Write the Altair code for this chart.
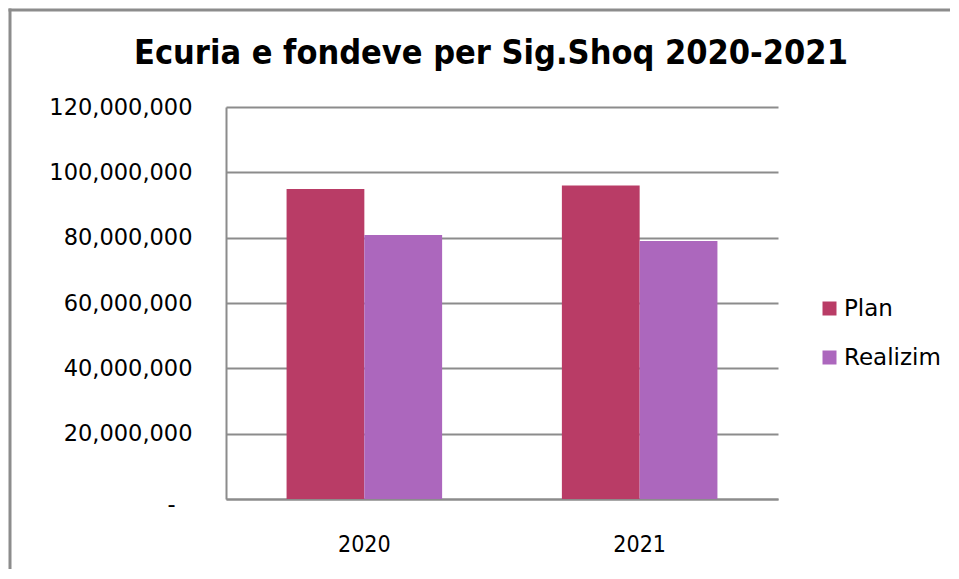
import altair as alt
import pandas as pd

years = ["2020", "2021"]
series = ["Plan", "Realizim"]
plan = [94_900_000, 96_000_000]
realizim = [80_800_000, 79_000_000]
colors = ["#B93C66", "#AC67BD"]
y_ticks = [0, 20_000_000, 40_000_000, 60_000_000, 80_000_000, 100_000_000, 120_000_000]
title_text = "Ecuria e fondeve per Sig.Shoq 2020-2021"

rows = []
for i, yr in enumerate(years):
    rows.append({"year": yr, "series": "Plan", "value": plan[i]})
    rows.append({"year": yr, "series": "Realizim", "value": realizim[i]})
df = pd.DataFrame(rows)

GRAY = "#8c8c8c"
FONT = "DejaVu Sans"
CFONT = "DejaVu Sans Condensed"

bars = alt.Chart(df).mark_bar().encode(
    x=alt.X("year:N", sort=years,
            scale=alt.Scale(paddingInner=0.435, paddingOuter=0.22),
            axis=alt.Axis(title=None, labelAngle=0, ticks=False, domainColor=GRAY,
                          domainWidth=2, labelPadding=34, labelFontSize=23,
                          labelFont=CFONT, labelColor="#000000", grid=False)),
    xOffset=alt.XOffset("series:N", sort=series, scale=alt.Scale(paddingInner=0, paddingOuter=0)),
    y=alt.Y("value:Q", scale=alt.Scale(domain=[0, 120_000_000], nice=False),
            axis=alt.Axis(title=None, values=y_ticks, format=",.0f", ticks=False,
                          labelPadding={"condition": {"test": "datum.value == 0", "value": 51}, "value": 34},
                          labelOffset={"condition": {"test": "datum.value == 0", "value": 5}, "value": 0},
                          labelFontSize=22.5, labelFont=FONT,
                          labelColor="#000000", domainColor=GRAY, domainWidth=2,
                          grid=True, gridColor=GRAY, gridWidth=2,
                          labelExpr="datum.value == 0 ? '-' : datum.label")),
    color=alt.Color("series:N", sort=series,
                    scale=alt.Scale(domain=series, range=colors),
                    legend=alt.Legend(title=None, orient="none", legendX=592, legendY=190,
                                      symbolType="square", symbolSize=196,
                                      symbolStrokeWidth=0, labelFontSize=23,
                                      labelFont=FONT, labelColor="#000000",
                                      labelOffset=3, rowPadding=25, padding=0)),
)

frame_df = pd.DataFrame({"a": [0]})
frame_left = alt.Chart(frame_df).mark_rule(color=GRAY, strokeWidth=3).encode(
    x=alt.value(-216), y=alt.value(-98.5), y2=alt.value(700))
frame_top = alt.Chart(frame_df).mark_rule(color=GRAY, strokeWidth=3).encode(
    x=alt.value(-217.5), x2=alt.value(900), y=alt.value(-97))

chart = alt.layer(bars, frame_left, frame_top).properties(
    width=552, height=392,
    background="white",
    autosize=alt.AutoSizeParams(type="none"),
    padding={"left": 218, "top": 99, "right": 172, "bottom": 70},
    title=alt.Title(title_text, font=CFONT, fontSize=34, fontWeight="bold",
                    color="#000000", anchor="middle", frame="group", dx=-11,
                    offset=0, dy=91, baseline="alphabetic"),
).configure_view(stroke=None)

chart.save("out.html", embed_options={"renderer": "svg", "actions": False})
